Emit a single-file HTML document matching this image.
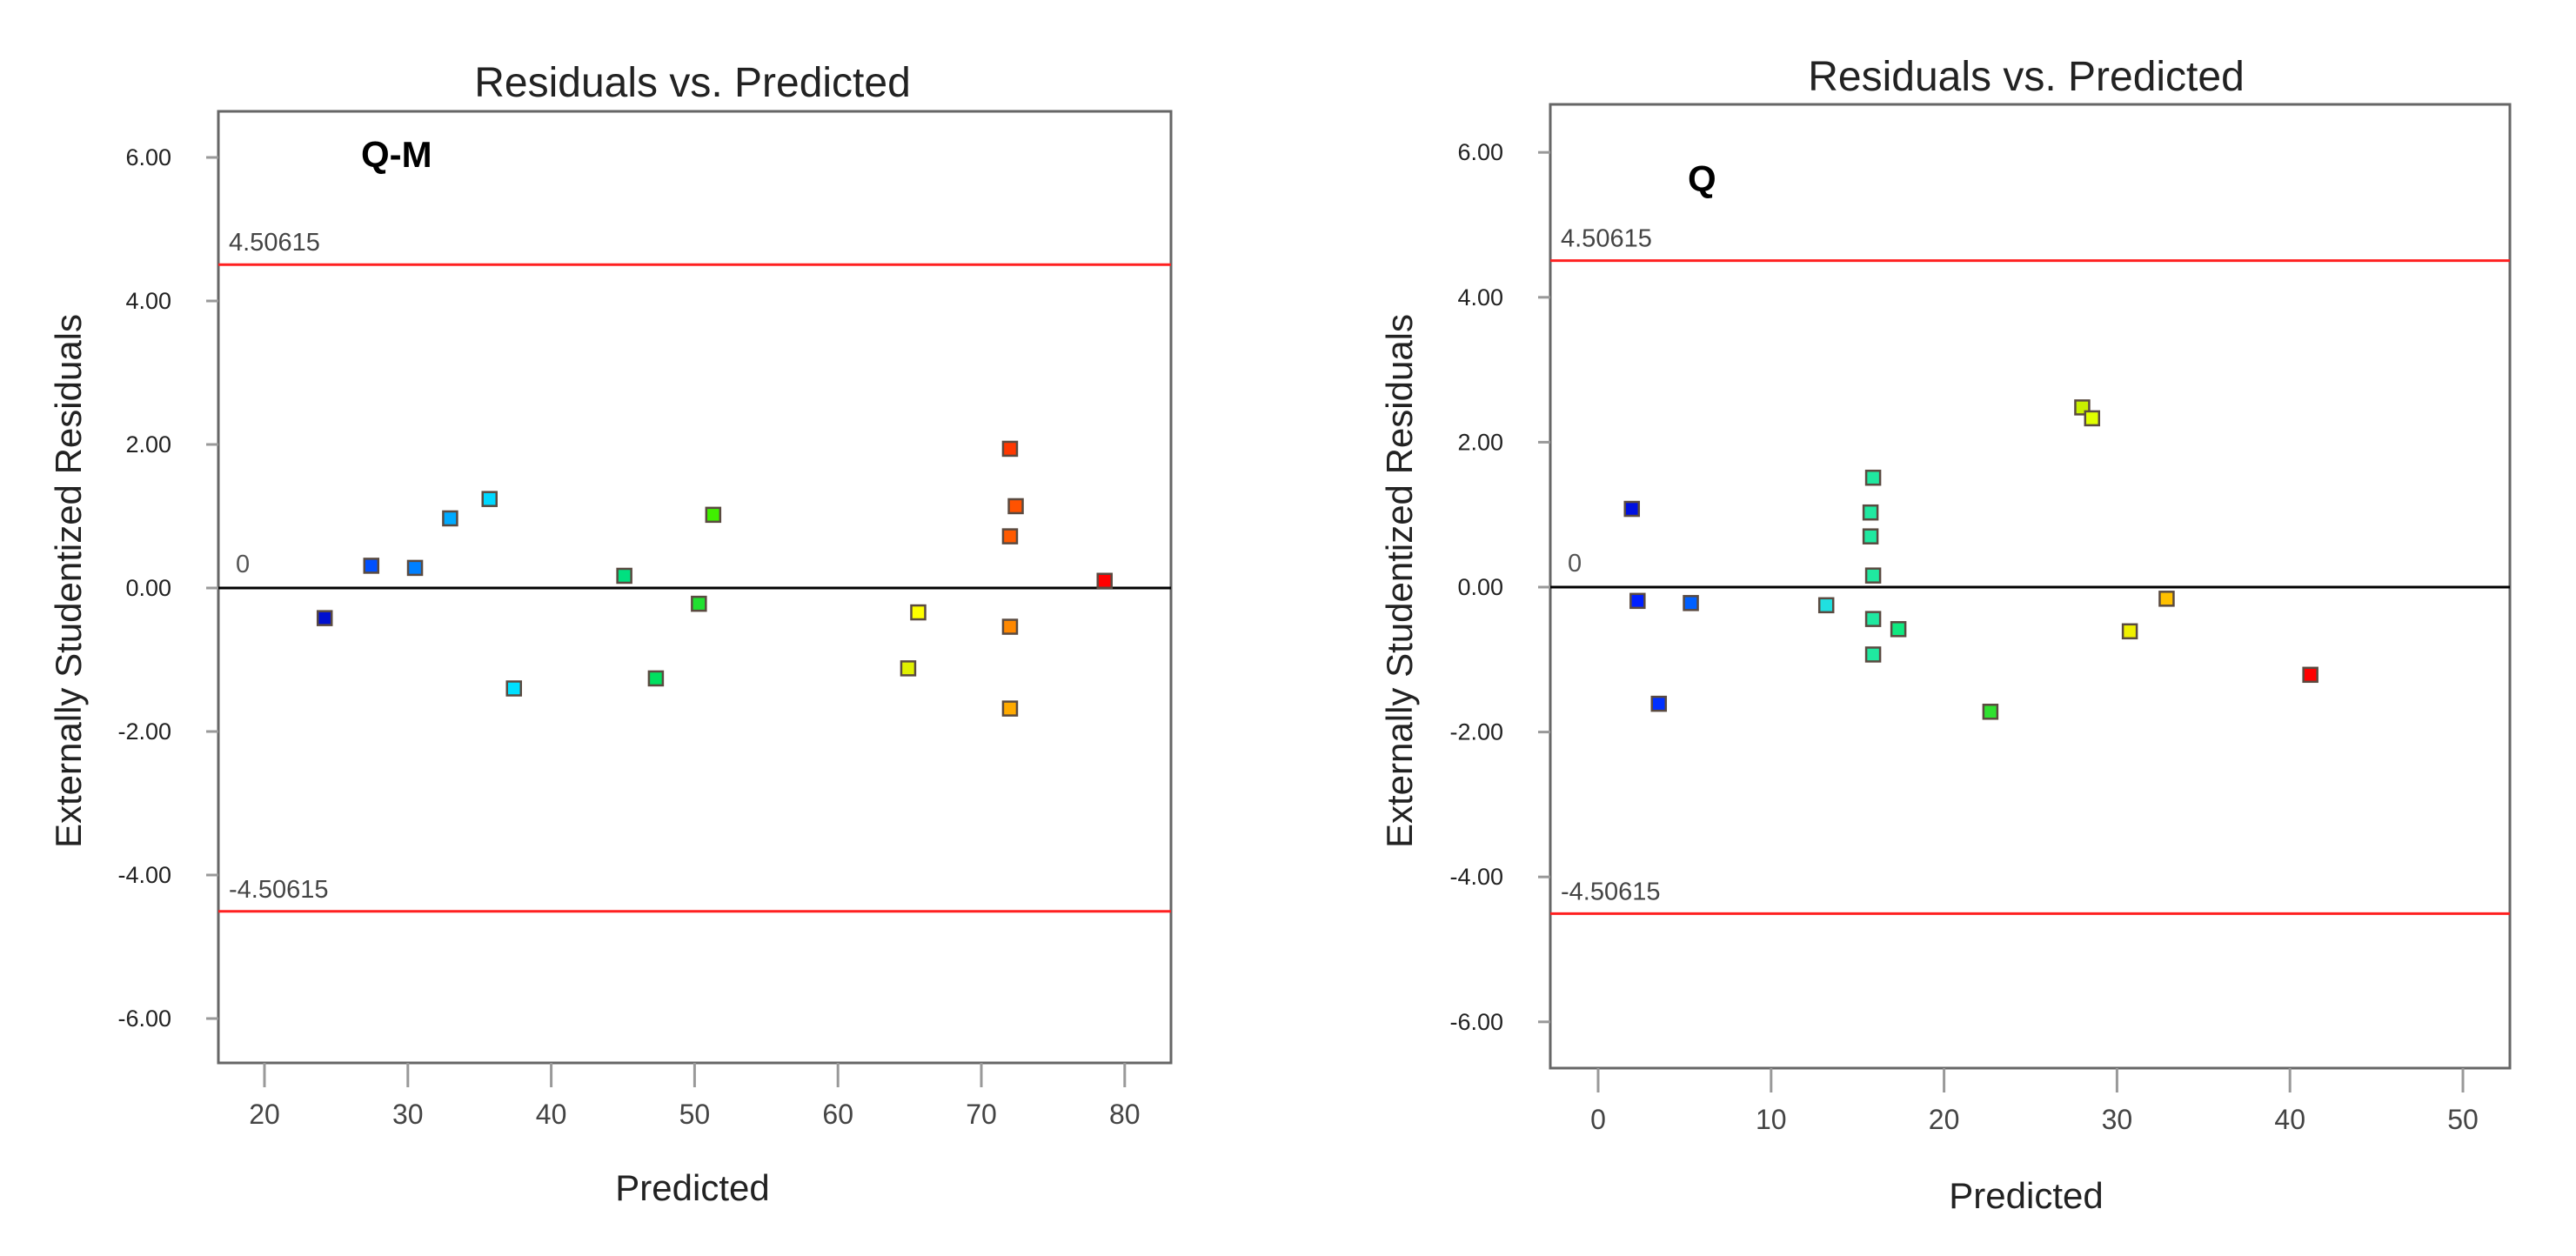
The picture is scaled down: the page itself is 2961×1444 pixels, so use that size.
<!DOCTYPE html>
<html><head><meta charset="utf-8"><style>
html,body{margin:0;padding:0;background:#fff;}
svg{display:block;font-family:"Liberation Sans",sans-serif;}
</style></head><body>
<svg id="chart" width="2961" height="1444" viewBox="0 0 2961 1444" xmlns="http://www.w3.org/2000/svg"></svg>
<script>
// Panel 1: Q-M
const qmPredicted = [24.2,27.45,30.5,32.95,35.7,37.4,45.1,47.3,50.3,51.3,64.9,65.6,72.0,72.4,72.0,72.0,72.0,78.6];
const qmResiduals = [-0.42,0.31,0.28,0.97,1.24,-1.40,0.17,-1.26,-0.22,1.02,-1.12,-0.34,1.94,1.14,0.72,-0.54,-1.68,0.10];
const qmColors = ["#0010d0","#0050ff","#0080ff","#00aaff","#00d8ff","#00e0ff","#00e080","#00e060","#20e030","#40f000","#e0f000","#ffff00","#ff3800","#ff5200","#ff5a00","#ff8800","#ffaa00","#ff0000"];
const qmXTicks = [20,30,40,50,60,70,80];
// Panel 2: Q
const qPredicted = [1.95,2.28,3.51,5.36,13.19,15.9,15.75,15.75,15.9,15.9,15.9,17.36,22.68,27.99,28.56,30.74,32.87,41.18];
const qResiduals = [1.08,-0.19,-1.61,-0.22,-0.25,1.51,1.03,0.70,0.16,-0.44,-0.93,-0.58,-1.72,2.48,2.33,-0.61,-0.16,-1.21];
const qColors = ["#0010e0","#0020ff","#0030ff","#0060ff","#20e0e0","#20e8a0","#20e8a0","#20e8a0","#20e8a0","#20e8a0","#20e8a0","#10e880","#30e030","#c8f000","#e0ff00","#f0f000","#ffc000","#ff0000"];
const qXTicks = [0,10,20,30,40,50];
const yTicks = [6,4,2,0,-2,-4,-6];
const yTickLabels = ["6.00","4.00","2.00","0.00","-2.00","-4.00","-6.00"];
const limitValue = 4.50615;

const NS="http://www.w3.org/2000/svg";
const svg=document.getElementById('chart');
function mk(tag,attrs,parent,text){const e=document.createElementNS(NS,tag);for(const k in attrs)e.setAttribute(k,attrs[k]);if(text!==undefined)e.textContent=text;(parent||svg).appendChild(e);return e;}

function panel(cfg){
  const g=mk('g',{});
  
  
  const xs=v=>cfg.x0px+(v-cfg.x0v)*cfg.pxPerX;
  const ys=v=>cfg.zeroY-v*cfg.pxPerY;
  const t=mk('text',{x:cfg.titleX,y:cfg.titleY,'font-size':48,'text-anchor':'middle',fill:'#222'},g,'Residuals vs. Predicted');
  
  
  const fr=mk('rect',{x:cfg.L,y:cfg.T,width:cfg.R-cfg.L,height:cfg.B-cfg.T,fill:'none',stroke:'#666','stroke-width':3},g);
  
  
  yTicks.forEach((v,i)=>{
    const y=ys(v);
    mk('line',{x1:cfg.L-14,x2:cfg.L,y1:y,y2:y,stroke:'#999','stroke-width':3},g);
    const tl=mk('text',{x:cfg.L-54,y:y+9,'font-size':27,'text-anchor':'end',fill:'#222'},g,yTickLabels[i]);
    
    
  });
  cfg.xTicks.forEach(v=>{
    const x=xs(v);
    mk('line',{x1:x,x2:x,y1:cfg.B,y2:cfg.B+28,stroke:'#999','stroke-width':3},g);
    const tl=mk('text',{x:x,y:cfg.B+70,'font-size':32,'text-anchor':'middle',fill:'#444'},g,String(v));
    
    
  });
  [limitValue,-limitValue].forEach(v=>{
    const y=ys(v);
    const l=mk('line',{x1:cfg.L,x2:cfg.R,y1:y,y2:y,stroke:'#ff2020','stroke-width':3},g);
    
    
    const lt=mk('text',{x:cfg.L+12,y:y-16,'font-size':29,fill:'#444'},g,(v<0?'-':'')+'4.50615');
    
    
  });
  const zl=mk('line',{x1:cfg.L,x2:cfg.R,y1:ys(0),y2:ys(0),stroke:'#000','stroke-width':3},g);
  
  
  mk('text',{x:cfg.L+20,y:ys(0)-18,'font-size':29,fill:'#555'},g,'0');
  const lab=mk('text',{x:cfg.labX,y:cfg.labY,'font-size':42,'font-weight':'bold',fill:'#000'},g,cfg.label);
  
  
  cfg.px.forEach((v,i)=>{
    const r=mk('rect',{x:xs(v)-8,y:ys(cfg.py[i])-8,width:16,height:16,fill:cfg.colors[i],stroke:'#5a4a40','stroke-width':2.5},g);
    
    
  });
  const yt=mk('text',{x:0,y:0,'font-size':42,'text-anchor':'middle',fill:'#222',transform:`translate(${cfg.yTitleX},${cfg.yTitleY}) rotate(-90)`},g,'Externally Studentized Residuals');
  
  
  const xt=mk('text',{x:cfg.titleX,y:cfg.xTitleY,'font-size':42,'text-anchor':'middle',fill:'#222'},g,'Predicted');
  
  
}

panel({name:'panel-q-m',L:251,R:1346,T:128,B:1222,x0px:304,x0v:20,pxPerX:16.48,zeroY:676,pxPerY:82.5,
  xTicks:qmXTicks,px:qmPredicted,py:qmResiduals,colors:qmColors,label:'Q-M',labX:415,labY:192,
  titleX:796,titleY:111,yTitleX:93,yTitleY:668,xTitleY:1380});
panel({name:'panel-q',L:1782,R:2885,T:120,B:1228,x0px:1837,x0v:0,pxPerX:19.88,zeroY:675,pxPerY:83.3,
  xTicks:qXTicks,px:qPredicted,py:qResiduals,colors:qColors,label:'Q',labX:1940,labY:220,
  titleX:2329,titleY:104,yTitleX:1623,yTitleY:668,xTitleY:1389});
</script>
</body></html>
